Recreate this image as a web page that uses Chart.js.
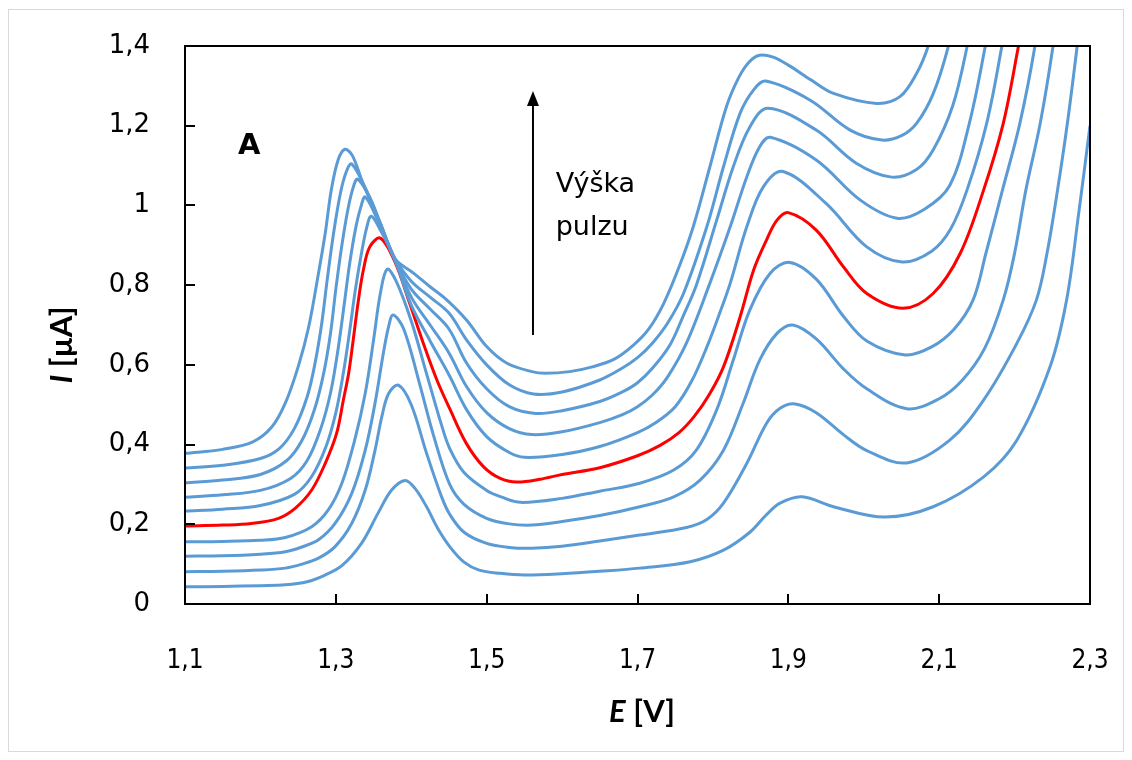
<!DOCTYPE html>
<html>
<head>
<meta charset="utf-8">
<script src="https://cdn.jsdelivr.net/npm/chart.js@4.4.1/dist/chart.umd.min.js"></script>
<style>
  body { margin: 0; background: #fff; }
  #wrap { width: 1132px; height: 760px; }
</style>
</head>
<body>
<div id="wrap"><canvas id="chart" width="1132" height="760"></canvas></div>
<script>
// Potential E [V] / current I [µA] pairs, one list per pulse height (lowest first)
const curve0 = [[1.10,0.043],[1.15,0.044],[1.20,0.046],[1.233,0.048],[1.262,0.056],[1.285,0.072],[1.308,0.096],[1.334,0.152],[1.356,0.228],[1.374,0.286],[1.392,0.310],[1.405,0.29],[1.42,0.245],[1.435,0.19],[1.451,0.144],[1.47,0.105],[1.49,0.085],[1.518,0.077],[1.55,0.073],[1.60,0.076],[1.65,0.082],[1.703,0.090],[1.77,0.106],[1.814,0.135],[1.849,0.180],[1.870,0.222],[1.889,0.253],[1.918,0.269],[1.96,0.244],[2.028,0.218],[2.092,0.244],[2.159,0.319],[2.203,0.411],[2.247,0.595],[2.269,0.763],[2.285,0.98],[2.30,1.20]];
const curve1 = [[1.10,0.081],[1.15,0.082],[1.20,0.085],[1.233,0.090],[1.255,0.100],[1.277,0.115],[1.299,0.144],[1.321,0.202],[1.339,0.286],[1.352,0.386],[1.361,0.470],[1.370,0.528],[1.383,0.549],[1.40,0.50],[1.42,0.38],[1.44,0.27],[1.451,0.225],[1.47,0.18],[1.50,0.152],[1.53,0.142],[1.56,0.140],[1.60,0.145],[1.65,0.158],[1.703,0.173],[1.765,0.192],[1.792,0.212],[1.814,0.253],[1.845,0.353],[1.871,0.453],[1.889,0.491],[1.909,0.502],[1.937,0.48],[1.973,0.425],[2.004,0.385],[2.057,0.354],[2.114,0.411],[2.159,0.512],[2.203,0.654],[2.229,0.763],[2.243,0.88],[2.257,1.039],[2.27,1.206],[2.283,1.40],[2.289,1.50]];
const curve2 = [[1.10,0.120],[1.15,0.121],[1.20,0.125],[1.233,0.131],[1.255,0.143],[1.277,0.161],[1.299,0.202],[1.321,0.277],[1.339,0.386],[1.352,0.504],[1.363,0.629],[1.370,0.696],[1.376,0.725],[1.39,0.69],[1.41,0.56],[1.43,0.42],[1.451,0.30],[1.47,0.25],[1.50,0.215],[1.53,0.201],[1.56,0.198],[1.60,0.207],[1.65,0.222],[1.703,0.244],[1.748,0.269],[1.783,0.311],[1.814,0.386],[1.840,0.503],[1.862,0.612],[1.885,0.679],[1.906,0.700],[1.937,0.665],[1.973,0.59],[2.004,0.540],[2.057,0.490],[2.10,0.515],[2.13,0.56],[2.16,0.64],[2.185,0.763],[2.20,0.88],[2.215,1.039],[2.234,1.206],[2.251,1.40],[2.257,1.50]];
const curve3 = [[1.10,0.156],[1.15,0.157],[1.20,0.160],[1.233,0.167],[1.268,0.194],[1.290,0.236],[1.308,0.303],[1.325,0.411],[1.339,0.529],[1.350,0.662],[1.359,0.779],[1.368,0.840],[1.38,0.81],[1.40,0.71],[1.42,0.58],[1.44,0.45],[1.451,0.39],[1.47,0.33],[1.50,0.285],[1.52,0.268],[1.545,0.255],[1.60,0.265],[1.65,0.283],[1.703,0.303],[1.748,0.336],[1.778,0.386],[1.805,0.487],[1.827,0.612],[1.849,0.738],[1.876,0.830],[1.902,0.857],[1.937,0.815],[1.973,0.722],[2.004,0.66],[2.055,0.625],[2.09,0.645],[2.12,0.69],[2.145,0.763],[2.162,0.88],[2.184,1.039],[2.207,1.206],[2.227,1.40],[2.233,1.50]];
const curve4 = [[1.10,0.196],[1.15,0.198],[1.188,0.202],[1.224,0.215],[1.246,0.240],[1.268,0.286],[1.286,0.353],[1.301,0.428],[1.310,0.512],[1.317,0.579],[1.323,0.662],[1.330,0.763],[1.3365,0.838],[1.345,0.896],[1.359,0.918],[1.378,0.86],[1.398,0.754],[1.416,0.654],[1.434,0.562],[1.451,0.49],[1.473,0.403],[1.496,0.344],[1.518,0.315],[1.54,0.306],[1.571,0.313],[1.60,0.325],[1.65,0.342],[1.70,0.372],[1.73,0.398],[1.755,0.43],[1.775,0.47],[1.795,0.525],[1.814,0.595],[1.836,0.72],[1.854,0.838],[1.871,0.913],[1.885,0.963],[1.90,0.982],[1.937,0.938],[1.973,0.846],[2.004,0.779],[2.052,0.742],[2.092,0.779],[2.128,0.88],[2.159,1.039],[2.185,1.206],[2.205,1.398],[2.212,1.47]];
const curve5 = [[1.10,0.233],[1.15,0.238],[1.20,0.247],[1.245,0.275],[1.268,0.32],[1.287,0.395],[1.30,0.48],[1.31,0.58],[1.318,0.68],[1.326,0.79],[1.334,0.88],[1.341,0.945],[1.347,0.973],[1.36,0.935],[1.378,0.865],[1.40,0.75],[1.425,0.66],[1.45,0.575],[1.4735,0.487],[1.50,0.42],[1.53,0.38],[1.55,0.368],[1.60,0.375],[1.65,0.395],[1.70,0.43],[1.725,0.456],[1.75,0.495],[1.772,0.56],[1.792,0.645],[1.81,0.735],[1.823,0.805],[1.845,0.947],[1.867,1.047],[1.893,1.085],[1.95,1.005],[2.004,0.896],[2.051,0.858],[2.09,0.885],[2.115,0.94],[2.137,1.039],[2.163,1.206],[2.183,1.398],[2.188,1.46]];
const curve6 = [[1.10,0.268],[1.15,0.274],[1.20,0.285],[1.24,0.315],[1.262,0.36],[1.28,0.44],[1.293,0.53],[1.303,0.64],[1.311,0.75],[1.318,0.85],[1.326,0.94],[1.333,0.995],[1.339,1.021],[1.355,0.965],[1.378,0.866],[1.40,0.77],[1.425,0.70],[1.45,0.63],[1.4735,0.545],[1.50,0.48],[1.53,0.44],[1.56,0.425],[1.60,0.432],[1.65,0.455],[1.68,0.475],[1.70,0.495],[1.72,0.525],[1.74,0.57],[1.765,0.655],[1.796,0.805],[1.823,0.947],[1.845,1.072],[1.862,1.147],[1.876,1.171],[1.937,1.114],[1.995,1.014],[2.044,0.968],[2.08,0.99],[2.114,1.05],[2.140,1.206],[2.161,1.398],[2.166,1.46]];
const curve7 = [[1.10,0.304],[1.15,0.311],[1.20,0.325],[1.235,0.36],[1.255,0.41],[1.272,0.49],[1.284,0.58],[1.293,0.68],[1.30,0.79],[1.308,0.90],[1.316,0.99],[1.323,1.045],[1.329,1.066],[1.345,1.02],[1.36,0.95],[1.378,0.865],[1.40,0.79],[1.425,0.74],[1.45,0.69],[1.4735,0.604],[1.50,0.54],[1.53,0.495],[1.565,0.478],[1.60,0.485],[1.65,0.508],[1.68,0.532],[1.70,0.555],[1.72,0.592],[1.743,0.65],[1.76,0.72],[1.778,0.80],[1.805,0.963],[1.827,1.097],[1.849,1.197],[1.873,1.244],[1.937,1.189],[1.99,1.106],[2.037,1.071],[2.07,1.09],[2.092,1.139],[2.118,1.25],[2.137,1.398],[2.142,1.46]];
const curve8 = [[1.10,0.341],[1.15,0.348],[1.20,0.365],[1.225,0.39],[1.245,0.44],[1.262,0.52],[1.272,0.60],[1.281,0.70],[1.289,0.82],[1.297,0.93],[1.306,1.03],[1.314,1.085],[1.321,1.104],[1.34,1.04],[1.36,0.95],[1.378,0.868],[1.40,0.81],[1.425,0.77],[1.45,0.73],[1.4735,0.662],[1.50,0.60],[1.53,0.55],[1.562,0.527],[1.60,0.532],[1.65,0.562],[1.68,0.592],[1.70,0.618],[1.72,0.655],[1.74,0.705],[1.761,0.779],[1.792,0.947],[1.814,1.097],[1.836,1.231],[1.854,1.29],[1.870,1.312],[1.929,1.264],[1.982,1.189],[2.024,1.164],[2.05,1.175],[2.07,1.206],[2.092,1.28],[2.112,1.398],[2.117,1.46]];
const curve9 = [[1.10,0.378],[1.15,0.388],[1.19,0.407],[1.215,0.444],[1.233,0.504],[1.25,0.595],[1.264,0.695],[1.277,0.83],[1.286,0.931],[1.294,1.039],[1.303,1.114],[1.312,1.141],[1.322,1.125],[1.336,1.055],[1.359,0.955],[1.378,0.867],[1.403,0.83],[1.425,0.796],[1.447,0.763],[1.4735,0.712],[1.50,0.646],[1.527,0.604],[1.56,0.583],[1.577,0.579],[1.61,0.583],[1.64,0.595],[1.67,0.615],[1.695,0.65],[1.715,0.69],[1.735,0.755],[1.756,0.85],[1.774,0.947],[1.796,1.097],[1.818,1.248],[1.834,1.32],[1.848,1.36],[1.862,1.377],[1.88,1.372],[1.90,1.352],[1.93,1.315],[1.96,1.281],[2.017,1.256],[2.048,1.273],[2.07,1.331],[2.0855,1.40],[2.092,1.46]];

const curves = [curve0, curve1, curve2, curve3, curve4, curve5, curve6, curve7, curve8, curve9];
const highlighted = 4; // the red trace

const xTicks = [1.1, 1.3, 1.5, 1.7, 1.9, 2.1, 2.3];
const yTicks = [0, 0.2, 0.4, 0.6, 0.8, 1, 1.2, 1.4];

const BLUE = '#5b9bd5';
const RED = '#ff0000';
const FONT = "Lato, 'Open Sans', sans-serif";
const WIDE = "'DejaVu Sans', Lato, sans-serif";

const fmt = (v) => String(Math.round(v * 10) / 10).replace('.', ',');

const datasets = curves.map((pts, i) => ({
  data: pts.map(([x, y]) => ({ x, y })),
  showLine: true,
  borderColor: i === highlighted ? RED : BLUE,
  borderWidth: 3,
  pointRadius: 0,
  tension: 0.35,
  order: i === highlighted ? 1 : 0,
}));

// frame, inward ticks, axis titles and the in-plot notes
const decorations = {
  id: 'decorations',
  beforeDraw(chart) {
    const { ctx } = chart;
    ctx.save();
    ctx.strokeStyle = '#d9d9d9';
    ctx.lineWidth = 1;
    ctx.strokeRect(8.5, 9.5, 1115, 742);
    ctx.restore();
  },
  afterDraw(chart) {
    const { ctx, chartArea: a, scales: { x, y } } = chart;
    ctx.save();
    ctx.strokeStyle = '#000';
    ctx.lineWidth = 2;
    ctx.strokeRect(a.left, a.top, a.right - a.left, a.bottom - a.top);
    ctx.beginPath();
    xTicks.forEach((v) => {
      const px = Math.round(x.getPixelForValue(v));
      ctx.moveTo(px, a.bottom);
      ctx.lineTo(px, a.bottom - 10);
    });
    yTicks.forEach((v) => {
      const py = Math.round(y.getPixelForValue(v));
      ctx.moveTo(a.left, py);
      ctx.lineTo(a.left + 10, py);
    });
    ctx.stroke();

    // arrow "Výška pulzu"
    const ax = x.getPixelForValue(1.5614);
    const ay0 = y.getPixelForValue(0.675);
    const ay1 = y.getPixelForValue(1.287);
    ctx.beginPath();
    ctx.lineWidth = 2;
    ctx.moveTo(ax, ay0);
    ctx.lineTo(ax, ay1 + 12);
    ctx.stroke();
    ctx.beginPath();
    ctx.fillStyle = '#000';
    ctx.moveTo(ax, ay1);
    ctx.lineTo(ax - 6, ay1 + 15);
    ctx.lineTo(ax + 6, ay1 + 15);
    ctx.closePath();
    ctx.fill();

    ctx.fillStyle = '#000';
    ctx.textBaseline = 'middle';
    ctx.textAlign = 'left';
    ctx.font = `27px ${WIDE}`;
    ctx.fillText('Výška', x.getPixelForValue(1.5915), y.getPixelForValue(1.051));
    ctx.fillText('pulzu', x.getPixelForValue(1.5915), y.getPixelForValue(0.943));

    ctx.textAlign = 'center';
    ctx.font = `bold 29px ${WIDE}`;
    ctx.fillText('A', x.getPixelForValue(1.185), y.getPixelForValue(1.147));

    // x title: E [V]
    ctx.font = `bold italic 31px ${FONT}`;
    const eW = ctx.measureText('E').width;
    ctx.font = `bold 31px ${FONT}`;
    const restW = ctx.measureText(' [V]').width;
    const tx = 642 - (eW + restW) / 2;
    ctx.textAlign = 'left';
    ctx.font = `bold italic 31px ${FONT}`;
    ctx.fillText('E', tx, 712);
    ctx.font = `bold 31px ${FONT}`;
    ctx.fillText(' [V]', tx + eW, 712);

    // y title: I [µA]
    ctx.translate(62, 345);
    ctx.rotate(-Math.PI / 2);
    ctx.font = `bold italic 31px ${FONT}`;
    const iW = ctx.measureText('I').width;
    ctx.font = `bold 31px ${FONT}`;
    const uW = ctx.measureText(' [µA]').width;
    const sx = -(iW + uW) / 2;
    ctx.font = `bold italic 31px ${FONT}`;
    ctx.fillText('I', sx, 0);
    ctx.font = `bold 31px ${FONT}`;
    ctx.fillText(' [µA]', sx + iW, 0);
    ctx.restore();
  },
};

new Chart(document.getElementById('chart'), {
  type: 'scatter',
  data: { datasets },
  options: {
    responsive: false,
    animation: false,
    events: [],
    layout: { padding: { left: 0, top: 46, right: 42, bottom: 0 } },
    plugins: { legend: { display: false }, tooltip: { enabled: false } },
    scales: {
      x: {
        type: 'linear',
        min: 1.1,
        max: 2.3,
        grid: { display: false, drawTicks: false },
        border: { display: false },
        afterBuildTicks: (scale) => { scale.ticks = xTicks.map((value) => ({ value })); },
        afterFit: (scale) => {
          scale.height = 156;
          scale.paddingLeft = 0;
          scale.paddingRight = 0;
        },
        ticks: {
          padding: 42,
          color: '#000',
          font: { family: "'DejaVu Sans Condensed', 'Liberation Sans Narrow', Lato, sans-serif", size: 26 },
          maxRotation: 0,
          callback: (v) => fmt(v),
        },
      },
      y: {
        type: 'linear',
        min: 0,
        max: 1.4,
        grid: { display: false, drawTicks: false },
        border: { display: false },
        afterBuildTicks: (scale) => { scale.ticks = yTicks.map((value) => ({ value })); },
        afterFit: (scale) => {
          scale.width = 185;
          scale.paddingTop = 0;
          scale.paddingBottom = 0;
        },
        ticks: {
          padding: 35,
          color: '#000',
          font: { family: WIDE, size: 26 },
          callback: (v) => fmt(v),
        },
      },
    },
  },
  plugins: [decorations],
});
</script>
</body>
</html>
